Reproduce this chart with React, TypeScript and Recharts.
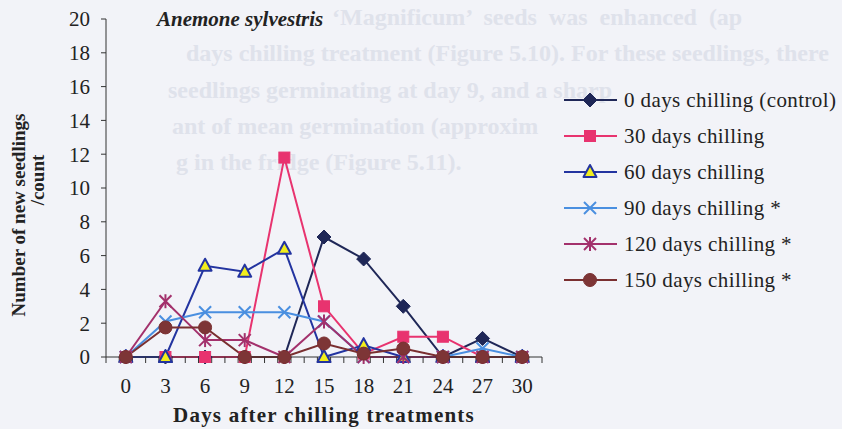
import { LineChart, Line, XAxis, YAxis, Legend, Label } from "recharts";

const days = [0, 3, 6, 9, 12, 15, 18, 21, 24, 27, 30];
const chill0 = [0, 0, 0, 0, 0, 7.1, 5.8, 3.0, 0, 1.1, 0];
const chill30 = [0, 0, 0, 0, 11.8, 3.0, 0.2, 1.2, 1.2, 0, 0];
const chill60 = [0, 0, 5.4, 5.05, 6.4, 0, 0.7, 0, 0, 0, 0];
const chill90 = [0, 2.1, 2.65, 2.65, 2.65, 2.1, 0, 0, 0, 0.5, 0];
const chill120 = [0, 3.3, 1.0, 1.0, 0, 2.1, 0, 0, 0, 0, 0];
const chill150 = [0, 1.75, 1.75, 0, 0, 0.8, 0.2, 0.5, 0, 0, 0];
const yTicks = [0, 2, 4, 6, 8, 10, 12, 14, 16, 18, 20];

// excel-style: one small tick per day, sitting between the day slots
const dayBounds = Array.from({ length: 34 }, (_, i) => i - 1.5);

const W = 842;
const H = 429;
const M = { top: 19, right: 300, bottom: 0, left: 0 };
const Y_AXIS_W = 106;
const PLOT_W = W - M.left - M.right - Y_AXIS_W;
const HALF_SLOT = PLOT_W / (dayBounds.length - 1) / 2;

const serif = '"Liberation Serif", "Times New Roman", serif';
const ink = "#222";

type Shape = "diamond" | "square" | "triangle" | "cross" | "star" | "circle";

const series: { key: string; name: string; color: string; fill: string; shape: Shape; values: number[] }[] = [
  { key: "c0", name: "0 days chilling (control)", color: "#1f2757", fill: "#1f2757", shape: "diamond", values: chill0 },
  { key: "c30", name: "30 days chilling", color: "#e8336f", fill: "#e8336f", shape: "square", values: chill30 },
  { key: "c60", name: "60 days chilling", color: "#2334a0", fill: "#f2ee1c", shape: "triangle", values: chill60 },
  { key: "c90", name: "90 days chilling *", color: "#4a8fe0", fill: "#4a8fe0", shape: "cross", values: chill90 },
  { key: "c120", name: "120 days chilling *", color: "#a3316c", fill: "#a3316c", shape: "star", values: chill120 },
  { key: "c150", name: "150 days chilling *", color: "#7a2f30", fill: "#7d3536", shape: "circle", values: chill150 },
];

const data = days.map((d, i) => {
  const row: Record<string, number> = { day: d };
  series.forEach((s) => (row[s.key] = s.values[i]));
  return row;
});

function Marker({ cx, cy, shape, color, fill }: { cx: number; cy: number; shape: Shape; color: string; fill: string }) {
  if (cx == null || cy == null) return null;
  switch (shape) {
    case "diamond":
      return <polygon points={`${cx},${cy - 7} ${cx + 7},${cy} ${cx},${cy + 7} ${cx - 7},${cy}`} fill={fill} stroke={color} />;
    case "square":
      return <rect x={cx - 5.5} y={cy - 5.5} width={11} height={11} fill={fill} stroke={color} />;
    case "triangle":
      return <polygon points={`${cx},${cy - 7} ${cx + 6.5},${cy + 5} ${cx - 6.5},${cy + 5}`} fill={fill} stroke={color} strokeWidth={2} strokeLinejoin="round" />;
    case "cross":
      return (
        <g stroke={color} strokeWidth={2}>
          <line x1={cx - 6} y1={cy - 6} x2={cx + 6} y2={cy + 6} />
          <line x1={cx - 6} y1={cy + 6} x2={cx + 6} y2={cy - 6} />
        </g>
      );
    case "star":
      return (
        <g stroke={color} strokeWidth={2}>
          <line x1={cx - 6} y1={cy - 6} x2={cx + 6} y2={cy + 6} />
          <line x1={cx - 6} y1={cy + 6} x2={cx + 6} y2={cy - 6} />
          <line x1={cx} y1={cy - 7} x2={cx} y2={cy + 7} />
        </g>
      );
    default:
      return <circle cx={cx} cy={cy} r={6.5} fill={fill} stroke={color} />;
  }
}

function LegendBox() {
  return (
    <div style={{ fontFamily: serif, fontSize: 21, letterSpacing: 0.4, color: ink }}>
      {series.map((s) => (
        <div key={s.key} style={{ display: "flex", alignItems: "center", height: 36 }}>
          <svg width={56} height={20} style={{ marginRight: 5 }}>
            <line x1={1} y1={10} x2={54} y2={10} stroke={s.color} strokeWidth={2} />
            <Marker cx={27} cy={10} shape={s.shape} color={s.color} fill={s.fill} />
          </svg>
          <span style={{ whiteSpace: "nowrap" }}>{s.name}</span>
        </div>
      ))}
    </div>
  );
}

// faint show-through of the page text behind the scanned figure
const ghostLines = [
  { text: "\u2018Magnificum\u2019  seeds  was  enhanced  (ap", left: 332, top: 4 },
  { text: "days chilling treatment (Figure 5.10). For these seedlings, there", left: 186, top: 40 },
  { text: "seedlings germinating at day 9, and a sharp", left: 168, top: 77 },
  { text: "ant of mean germination (approxim", left: 172, top: 113 },
  { text: "g in the fridge (Figure 5.11).", left: 176, top: 149 },
];

function DayTick(p: any) {
  const d = p.payload.value + 0.5;
  if (!days.includes(d)) return <g />;
  return (
    <text x={p.x + HALF_SLOT} y={p.y} dy="0.71em" textAnchor="middle" fontFamily={serif} fontSize={21} fill={ink}>
      {d}
    </text>
  );
}

export default function App() {
  return (
    <div style={{ position: "absolute", left: 0, top: 0, width: W, height: H, background: "#f2f3f8", overflow: "hidden" }}>
      {ghostLines.map((g) => (
        <div
          key={g.top}
          style={{ position: "absolute", left: g.left, top: g.top, fontFamily: serif, fontWeight: "bold", fontSize: 24, color: "#dfe2eb", whiteSpace: "pre" }}
        >
          {g.text}
        </div>
      ))}
      <div style={{ position: "absolute", left: 157, top: 7, fontFamily: serif, fontWeight: "bold", fontStyle: "italic", fontSize: 21, color: ink }}>
        Anemone sylvestris
      </div>
      <div style={{ position: "absolute", left: 0, top: 0 }}>
        <LineChart width={W} height={H} data={data} margin={M}>
          <XAxis
            type="number"
            dataKey="day"
            domain={[dayBounds[0], dayBounds[dayBounds.length - 1]]}
            ticks={dayBounds}
            interval={0}
            height={72}
            tickSize={6}
            tickMargin={15}
            stroke="#333"
            tick={DayTick}
          >
            <Label
              content={({ viewBox }: any) => (
                <text
                  x={viewBox.x + viewBox.width / 2}
                  y={viewBox.y + 65}
                  textAnchor="middle"
                  fontFamily={serif}
                  fontWeight="bold"
                  fontSize={21}
                  letterSpacing={1.2}
                  fill={ink}
                >
                  Days after chilling treatments
                </text>
              )}
            />
          </XAxis>
          <YAxis
            type="number"
            domain={[0, 20]}
            ticks={yTicks}
            interval={0}
            width={Y_AXIS_W}
            tickSize={5}
            tickMargin={11}
            stroke="#333"
            tick={{ fill: ink, fontSize: 21, fontFamily: serif }}
          >
            <Label
              content={() => (
                <g fontFamily={serif} fontWeight="bold" fontSize={19} fill={ink} textAnchor="middle">
                  <text transform="translate(25,215) rotate(-90)">Number of new seedlings</text>
                  <text transform="translate(44,180) rotate(-90)">/count</text>
                </g>
              )}
            />
          </YAxis>
          <Legend
            layout="vertical"
            align="center"
            verticalAlign="middle"
            wrapperStyle={{ left: 563, top: 82, width: 279 }}
            content={() => <LegendBox />}
          />
          {series.map((s) => (
            <Line
              key={s.key}
              dataKey={s.key}
              name={s.name}
              type="linear"
              stroke={s.color}
              strokeWidth={2}
              isAnimationActive={false}
              dot={(p: any) => <Marker key={`${s.key}-${p.index}`} cx={p.cx} cy={p.cy} shape={s.shape} color={s.color} fill={s.fill} />}
              activeDot={false}
            />
          ))}
        </LineChart>
      </div>
    </div>
  );
}
